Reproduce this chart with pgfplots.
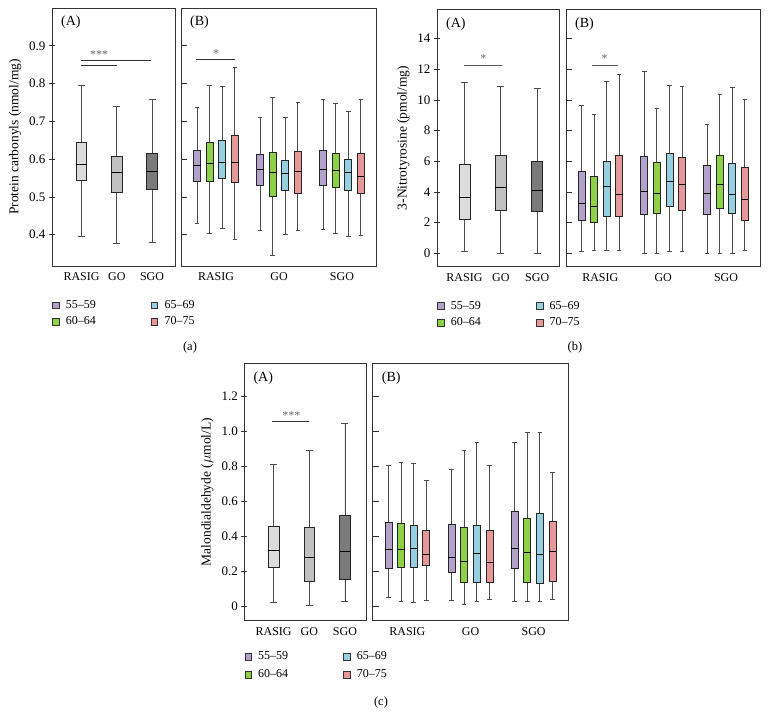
\documentclass[border=0pt]{standalone}
\usepackage{pgfplots}
\pgfplotsset{compat=1.18}
\usepgfplotslibrary{statistics}
\usepackage{fontspec}
\setmainfont{Liberation Serif}

\definecolor{cpur}{RGB}{178,162,202}
\definecolor{cgrn}{RGB}{142,208,72}
\definecolor{cblu}{RGB}{150,208,224}
\definecolor{cred}{RGB}{230,152,152}
\definecolor{gA}{RGB}{220,220,220}
\definecolor{gB}{RGB}{192,192,192}
\definecolor{gC}{RGB}{122,122,122}

% draw position, box width, lower whisker, Q1, median, Q3, upper whisker, fill
\newcommand{\bx}[8]{%
\addplot[draw=black!85, fill=#8, line width=0.8pt,
  boxplot/draw direction=y,
  boxplot prepared={draw position=#1, box extend=#2, whisker extend=#2*0.65,
    lower whisker=#3, lower quartile=#4, median=#5, upper quartile=#6, upper whisker=#7},
  boxplot/every whisker/.style={draw=black!70, line width=0.9pt},
  boxplot/every median/.style={draw=black, line width=0.9pt}] coordinates {};}

\tikzset{lab/.style={font=\fontsize{14}{16}\selectfont, anchor=north west, inner sep=0pt},
  sig/.style={black!60, font=\fontsize{12}{13}\selectfont, anchor=south, inner sep=1.5pt}}

\pgfplotsset{
  pan/.style={scale only axis, height=258pt,
    font=\fontsize{12}{14}\selectfont,
    axis line style={black!80, line width=0.8pt},
    xtick={1,2,3}, xticklabels={RASIG,GO,SGO},
    x tick style={draw=none}, xtick pos=bottom, ytick pos=left,
    y tick style={black!80, line width=0.7pt},
    xticklabel style={font=\fontsize{12}{14}\selectfont, yshift=-3pt},
    yticklabel style={font=\fontsize{13}{15}\selectfont},
    ylabel style={font=\fontsize{13.5}{15}\selectfont, yshift=1pt},
    clip=false},
  panA/.style={pan, width=123pt, ytick align=center, major tick length=6pt,
    legend columns=2, legend cell align=left,
    legend image code/.code={\draw[##1, line width=0.6pt] (0pt,-3.3pt) rectangle (6.6pt,3.3pt);},
    legend style={draw=none, fill=none, anchor=north west, inner sep=0pt,
      font=\fontsize{12}{14}\selectfont,
      nodes={inner sep=1pt, text height=9pt, text depth=3pt},
      row sep=2.5pt,
      /tikz/every odd column/.append style={column sep=5.5pt},
      /tikz/every even column/.append style={column sep=54pt}}},
  panB/.style={pan, width=195pt, ytick align=inside, major tick length=6pt, yticklabels={}},
}

\begin{document}
\begin{tikzpicture}
\useasboundingbox (0pt,0pt) rectangle (769pt,-727pt);

%================ (a) =================
\begin{axis}[panA, at={(52pt,-266pt)}, anchor=south west,
  xmin=0.163, xmax=3.65, ymin=0.317, ymax=1.0,
  ytick={0.4,0.5,0.6,0.7,0.8,0.9}, yticklabels={0.4,0.5,0.6,0.7,0.8,0.9},
  ylabel={Protein carbonyls (nmol/mg)},
  legend style={at={(axis description cs:0,-0.125)}}]
\addlegendimage{fill=cpur, draw=black!80}\addlegendentry{55--59}
\addlegendimage{fill=cblu, draw=black!80}\addlegendentry{65--69}
\addlegendimage{fill=cgrn, draw=black!80}\addlegendentry{60--64}
\addlegendimage{fill=cred, draw=black!80}\addlegendentry{70--75}
\bx{1}{0.30}{0.396}{0.543}{0.587}{0.644}{0.794}{gA}
\bx{2}{0.30}{0.377}{0.513}{0.565}{0.607}{0.740}{gB}
\bx{3}{0.30}{0.380}{0.519}{0.566}{0.614}{0.759}{gC}
\draw[black!80, line width=0.9pt] (axis cs:0.99,0.860) -- (axis cs:2.97,0.860);
\draw[black!80, line width=0.9pt] (axis cs:0.99,0.848) -- (axis cs:2.0,0.848);
\node[sig] at (axis cs:1.5,0.862) {***};
\node[lab] at ([xshift=9pt,yshift=-8pt]rel axis cs:0,1) {(A)};
\end{axis}

\begin{axis}[panB, at={(181pt,-266pt)}, anchor=south west,
  xmin=0.444, xmax=3.54, ymin=0.317, ymax=1.0,
  ytick={0.4,0.5,0.6,0.7,0.8,0.9}]
\bx{0.7}{0.11}{0.430}{0.541}{0.582}{0.622}{0.736}{cpur}
\bx{0.9}{0.11}{0.404}{0.541}{0.589}{0.643}{0.795}{cgrn}
\bx{1.1}{0.11}{0.416}{0.550}{0.590}{0.650}{0.793}{cblu}
\bx{1.3}{0.11}{0.386}{0.539}{0.590}{0.664}{0.842}{cred}
\bx{1.7}{0.11}{0.411}{0.530}{0.572}{0.612}{0.709}{cpur}
\bx{1.9}{0.11}{0.346}{0.500}{0.564}{0.617}{0.762}{cgrn}
\bx{2.1}{0.11}{0.401}{0.516}{0.561}{0.596}{0.711}{cblu}
\bx{2.3}{0.11}{0.412}{0.508}{0.566}{0.620}{0.751}{cred}
\bx{2.7}{0.11}{0.414}{0.530}{0.573}{0.622}{0.757}{cpur}
\bx{2.9}{0.11}{0.403}{0.524}{0.570}{0.614}{0.746}{cgrn}
\bx{3.1}{0.11}{0.394}{0.516}{0.565}{0.600}{0.727}{cblu}
\bx{3.3}{0.11}{0.399}{0.510}{0.555}{0.614}{0.759}{cred}
\draw[black!80, line width=0.9pt] (axis cs:0.69,0.863) -- (axis cs:1.30,0.863);
\node[sig] at (axis cs:1.0,0.865) {*};
\node[lab] at ([xshift=9pt,yshift=-8pt]rel axis cs:0,1) {(B)};
\end{axis}
\node[font=\fontsize{12.5}{14}\selectfont] at (190pt,-347pt) {(a)};

%================ (b) =================
\begin{axis}[panA, at={(437pt,-266.7pt)}, anchor=south west, width=122pt, height=257.4pt,
  xmin=0.245, xmax=3.6, ymin=-0.87, ymax=15.9,
  ytick={0,2,4,6,8,10,12,14}, yticklabels={0,2,4,6,8,10,12,14},
  ylabel={3-Nitrotyrosine (pmol/mg)},
  legend style={at={(axis description cs:0,-0.125)}}]
\addlegendimage{fill=cpur, draw=black!80}\addlegendentry{55--59}
\addlegendimage{fill=cblu, draw=black!80}\addlegendentry{65--69}
\addlegendimage{fill=cgrn, draw=black!80}\addlegendentry{60--64}
\addlegendimage{fill=cred, draw=black!80}\addlegendentry{70--75}
\bx{1}{0.30}{0.15}{2.21}{3.65}{5.80}{11.15}{gA}
\bx{2}{0.30}{0.0}{2.78}{4.30}{6.39}{10.90}{gB}
\bx{3}{0.30}{0.0}{2.72}{4.09}{6.00}{10.75}{gC}
\draw[black!65, line width=0.9pt] (axis cs:0.99,12.25) -- (axis cs:2.04,12.25);
\node[sig] at (axis cs:1.52,12.3) {*};
\node[lab] at ([xshift=9pt,yshift=-8pt]rel axis cs:0,1) {(A)};
\end{axis}

\begin{axis}[panB, at={(566pt,-266.7pt)}, anchor=south west, width=194pt, height=257.4pt,
  xmin=0.454, xmax=3.54, ymin=-0.87, ymax=15.9,
  ytick={0,2,4,6,8,10,12,14}]
\bx{0.7}{0.11}{0.15}{2.17}{3.28}{5.37}{9.63}{cpur}
\bx{0.9}{0.11}{0.20}{2.02}{3.07}{5.00}{9.07}{cgrn}
\bx{1.1}{0.11}{0.20}{2.41}{4.33}{5.98}{11.17}{cblu}
\bx{1.3}{0.11}{0.20}{2.39}{3.85}{6.35}{11.67}{cred}
\bx{1.7}{0.11}{0.0}{2.52}{4.00}{6.30}{11.83}{cpur}
\bx{1.9}{0.11}{0.0}{2.61}{3.93}{5.93}{9.41}{cgrn}
\bx{2.1}{0.11}{0.15}{3.09}{4.67}{6.54}{10.91}{cblu}
\bx{2.3}{0.11}{0.15}{2.78}{4.50}{6.22}{10.85}{cred}
\bx{2.7}{0.11}{0.0}{2.52}{3.93}{5.74}{8.37}{cpur}
\bx{2.9}{0.11}{0.0}{2.96}{4.46}{6.41}{10.33}{cgrn}
\bx{3.1}{0.11}{0.0}{2.57}{3.85}{5.85}{10.78}{cblu}
\bx{3.3}{0.11}{0.17}{2.15}{3.54}{5.59}{10.00}{cred}
\draw[black!65, line width=0.9pt] (axis cs:0.87,12.26) -- (axis cs:1.28,12.26);
\node[sig] at (axis cs:1.07,12.3) {*};
\node[lab] at ([xshift=9pt,yshift=-8pt]rel axis cs:0,1) {(B)};
\end{axis}
\node[font=\fontsize{12.5}{14}\selectfont] at (575pt,-347pt) {(b)};

%================ (c) =================
\begin{axis}[panA, at={(244.3pt,-620.7pt)}, anchor=south west, width=122.4pt, height=257.4pt,
  xmin=0.177, xmax=3.61, ymin=-0.08, ymax=1.39,
  ytick={0,0.2,0.4,0.6,0.8,1.0,1.2}, yticklabels={0,0.2,0.4,0.6,0.8,1.0,1.2},
  ylabel={Malondialdehyde ($\mu$mol/L)},
  legend style={at={(axis description cs:0,-0.112)}, row sep=4pt}]
\addlegendimage{fill=cpur, draw=black!80}\addlegendentry{55--59}
\addlegendimage{fill=cblu, draw=black!80}\addlegendentry{65--69}
\addlegendimage{fill=cgrn, draw=black!80}\addlegendentry{60--64}
\addlegendimage{fill=cred, draw=black!80}\addlegendentry{70--75}
\bx{1}{0.30}{0.023}{0.223}{0.320}{0.459}{0.810}{gA}
\bx{2}{0.30}{0.008}{0.145}{0.282}{0.451}{0.890}{gB}
\bx{3}{0.30}{0.032}{0.154}{0.314}{0.522}{1.048}{gC}
\draw[black!80, line width=0.9pt] (axis cs:0.96,1.057) -- (axis cs:2.0,1.057);
\node[sig] at (axis cs:1.5,1.06) {***};
\node[lab] at ([xshift=9pt,yshift=-8pt]rel axis cs:0,1) {(A)};
\end{axis}

\begin{axis}[panB, at={(372.7pt,-620.7pt)}, anchor=south west, width=195.6pt, height=257.4pt,
  xmin=0.45, xmax=3.55, ymin=-0.08, ymax=1.39,
  ytick={0,0.2,0.4,0.6,0.8,1.0,1.2}]
\bx{0.7}{0.11}{0.050}{0.216}{0.327}{0.481}{0.806}{cpur}
\bx{0.9}{0.11}{0.032}{0.222}{0.327}{0.474}{0.821}{cgrn}
\bx{1.1}{0.11}{0.023}{0.222}{0.332}{0.464}{0.818}{cblu}
\bx{1.3}{0.11}{0.036}{0.233}{0.300}{0.434}{0.722}{cred}
\bx{1.7}{0.11}{0.034}{0.195}{0.281}{0.468}{0.781}{cpur}
\bx{1.9}{0.11}{0.010}{0.136}{0.260}{0.451}{0.890}{cgrn}
\bx{2.1}{0.11}{0.031}{0.139}{0.304}{0.464}{0.936}{cblu}
\bx{2.3}{0.11}{0.042}{0.141}{0.252}{0.434}{0.808}{cred}
\bx{2.7}{0.11}{0.031}{0.216}{0.332}{0.542}{0.940}{cpur}
\bx{2.9}{0.11}{0.032}{0.139}{0.308}{0.504}{0.995}{cgrn}
\bx{3.1}{0.11}{0.032}{0.134}{0.300}{0.531}{0.995}{cblu}
\bx{3.3}{0.11}{0.040}{0.143}{0.315}{0.489}{0.766}{cred}
\node[lab] at ([xshift=9pt,yshift=-8pt]rel axis cs:0,1) {(B)};
\end{axis}
\node[font=\fontsize{12.5}{14}\selectfont] at (381pt,-702pt) {(c)};
\end{tikzpicture}
\end{document}
